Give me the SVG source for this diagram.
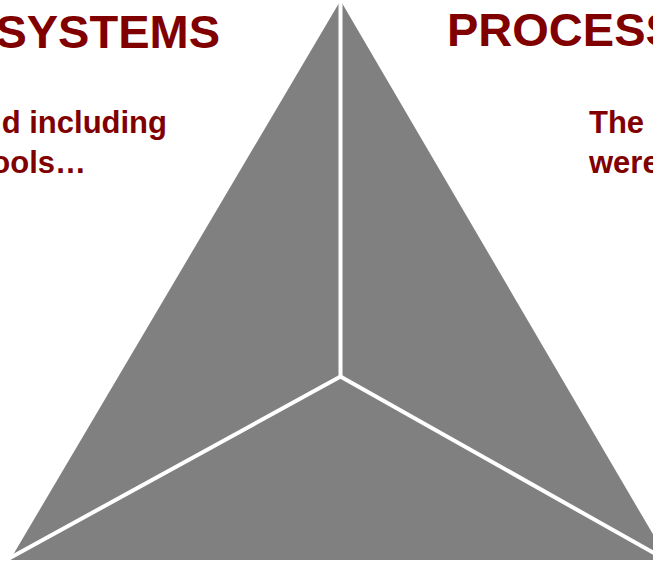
<svg xmlns="http://www.w3.org/2000/svg" width="653" height="561" viewBox="0 0 653 561">
<style>
.face{fill:#808080;}
.gap{stroke:#ffffff;stroke-width:4;fill:none;stroke-linecap:butt;}
.title{font-family:"Liberation Sans",Arial,sans-serif;font-weight:bold;font-size:47px;fill:#800000;}
.body{font-family:"Liberation Sans",Arial,sans-serif;font-weight:bold;font-size:31px;fill:#800000;}
</style>
<rect width="653" height="561" fill="#ffffff"/>
<g id="pyramid">
<polygon class="face" points="340.5,0.5 10,560 668,560"/>
</g>
<g id="connectors">
<line class="gap" x1="340.5" y1="0" x2="340.5" y2="377"/>
<line class="gap" x1="341.5" y1="376" x2="8" y2="559"/>
<line class="gap" x1="339.5" y1="376" x2="668" y2="561"/>
</g>
<g id="systems">
<text class="title" x="220" y="48" text-anchor="end">SYSTEMS</text>
<text class="body" x="167" y="133" text-anchor="end">d including</text>
<text class="body" x="86" y="173" text-anchor="end">ools…</text>
</g>
<g id="processes">
<text class="title" x="447" y="46">PROCESS</text>
<text class="body" x="589" y="133">The</text>
<text class="body" x="589" y="173">were</text>
</g>
</svg>
